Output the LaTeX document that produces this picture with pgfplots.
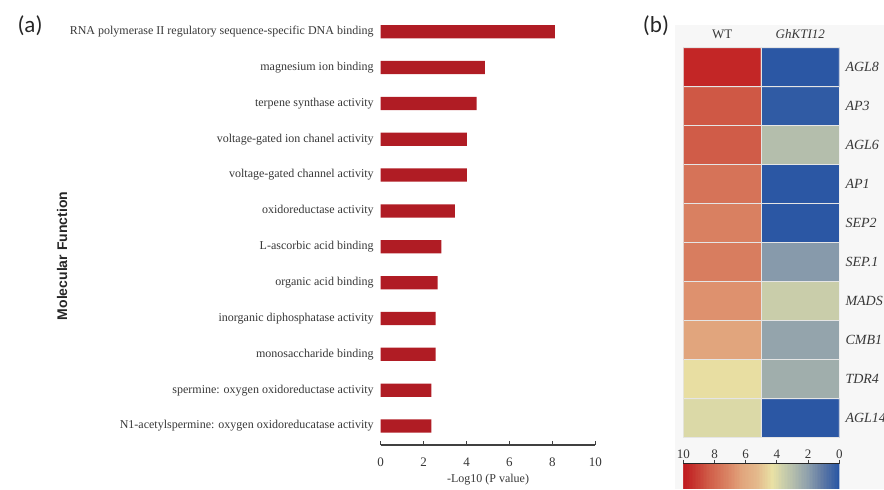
\documentclass[border=0pt]{standalone}
\usepackage{fontspec}
\setmainfont{Liberation Serif}
\newfontfamily\labsans{Liberation Sans}
\newfontfamily\carl{Carlito}
\usepackage{pgfplots}
\pgfplotsset{compat=1.18}
\usetikzlibrary{calc}
\definecolor{barred}{RGB}{176,28,36}
\definecolor{txt}{RGB}{55,55,55}
\definecolor{panelbg}{RGB}{247,247,247}
\pgfplotsset{/pgf/number format/assume math mode=true}
\begin{document}
\begin{tikzpicture}
\useasboundingbox (0,0) rectangle (442pt,-244.5pt);
\fill[panelbg] (337.5pt,-12.5pt) rectangle (442pt,-244.5pt);
\node[font=\carl\fontsize{11.5}{12}\selectfont, text=black!85] at (15pt,-13pt) {(a)};
\node[font=\carl\fontsize{11.5}{12}\selectfont, text=black!85] at (328pt,-13pt) {(b)};

\begin{axis}[
  scale only axis, width=107.3pt, height=215.6pt,
  at={(190.35pt,-222.5pt)}, anchor=south west,
  xmin=0, xmax=10, ymin=-0.53, ymax=11.5,
  xbar, bar width=0.37,
  axis x line*=bottom, axis y line*=left,
  x axis line style={-, draw=black!75, line width=0.6pt},
  y axis line style={draw=none},
  xtick={0,2,...,10}, xtick align=inside, major tick length=2pt,
  xtick style={draw=black!75, line width=0.5pt},
  ytick={0,...,11}, ytick style={draw=none},
  yticklabels={N1-acetylspermine: oxygen oxidoreducatase activity, spermine: oxygen oxidoreductase activity, monosaccharide binding, inorganic diphosphatase activity, organic acid binding, L-ascorbic acid binding, oxidoreductase activity, voltage-gated channel activity, voltage-gated ion chanel activity, terpene synthase activity, magnesium ion binding, RNA polymerase II regulatory sequence-specific DNA binding},
  yticklabel style={font=\fontsize{6}{7}\selectfont, text=txt, inner xsep=0pt, xshift=-1.3pt},
  xticklabel style={font=\fontsize{6.5}{7}\selectfont, text=txt, yshift=-3pt},
  clip=false,
]
\addplot[fill=barred, draw=none] coordinates {(2.36,0) (2.36,1) (2.56,2) (2.56,3) (2.65,4) (2.83,5) (3.46,6) (4.02,7) (4.02,8) (4.47,9) (4.85,10) (8.12,11)};
\end{axis}
\node[font=\fontsize{6}{7}\selectfont, text=txt] at (244pt,-240pt) {-Log10 (P value)};
\node[rotate=90, font=\labsans\bfseries\fontsize{7}{8}\selectfont, text=black!85] at (31pt,-128pt) {Molecular Function};

\begin{axis}[
  scale only axis, width=78pt, height=195pt,
  at={(341.65pt,-218.85pt)}, anchor=south west,
  xmin=-0.5, xmax=1.5, ymin=-0.5, ymax=9.5,
  axis line style={draw=none}, tick style={draw=none},
  xtick={0,1}, xticklabels={WT, \textit{GhKTI12}}, xticklabel pos=upper,
  ytick={0,...,9}, yticklabels={AGL14,TDR4,CMB1,MADS,SEP.1,SEP2,AP1,AGL6,AP3,AGL8}, yticklabel pos=right,
  yticklabel style={font=\itshape\fontsize{7}{8}\selectfont, text=txt, anchor=west, inner xsep=0pt, xshift=2.9pt},
  xticklabel style={font=\fontsize{6.5}{7}\selectfont, text=txt, yshift=1pt},
  colormap={heat}{rgb255(0pt)=(38,84,164); rgb255(12pt)=(100,125,165); rgb255(20pt)=(140,158,172); rgb255(30pt)=(180,190,172); rgb255(37pt)=(205,208,170); rgb255(43pt)=(233,226,165); rgb255(53pt)=(228,185,140); rgb255(63pt)=(225,165,125); rgb255(68pt)=(222,145,110); rgb255(74pt)=(216,125,95); rgb255(84pt)=(208,92,72); rgb255(100pt)=(192,25,30)},
  point meta min=0, point meta max=10,
  colorbar sampled,
  colorbar horizontal,
  colorbar style={
    scale only axis,
    at={($(parent axis.south west)+(0,-4.4pt)$)}, anchor=north west,
    width=78pt, height=12.6pt,
    samples=101,
    x dir=reverse,
    axis x line=top, axis y line=none,
    x axis line style={-, draw=black!85, line width=0.6pt},
    xtick={0,2,...,10}, xtick align=outside, major tick length=2pt,
    xtick style={draw=black!75, line width=0.5pt},
    xticklabel style={font=\fontsize{6.5}{7}\selectfont, text=txt, yshift=-3pt},
  },
]
\addplot[matrix plot*, mesh/cols=2, point meta=explicit, draw=white!90!black, line width=0.5pt] table[meta=c] {
x y c
0 0 4.0
1 0 0.1
0 1 4.4
1 1 2.5
0 2 6.3
1 2 2.2
0 3 6.8
1 3 3.6
0 4 7.4
1 4 1.9
0 5 7.3
1 5 0.1
0 6 7.7
1 6 0.1
0 7 8.4
1 7 3.0
0 8 8.5
1 8 0.2
0 9 9.7
1 9 0.1
};
\end{axis}
\end{tikzpicture}
\end{document}
